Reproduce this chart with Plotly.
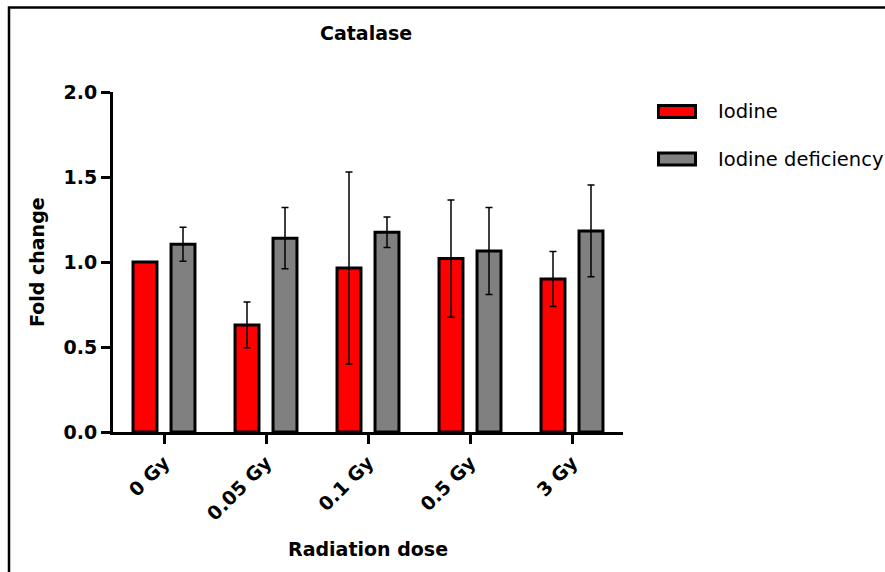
import plotly.graph_objects as go

# ---- data ----
categories = ["0 Gy", "0.05 Gy", "0.1 Gy", "0.5 Gy", "3 Gy"]
series_names = ["Iodine", "Iodine deficiency"]
iodine = [1.00, 0.63, 0.965, 1.02, 0.90]
iodine_err = [0.0, 0.135, 0.565, 0.345, 0.162]
deficiency = [1.105, 1.14, 1.175, 1.065, 1.183]
deficiency_err = [0.10, 0.18, 0.09, 0.256, 0.27]
y_ticks = [0.0, 0.5, 1.0, 1.5, 2.0]
y_tick_text = ["0.0", "0.5", "1.0", "1.5", "2.0"]
colors = ["#FF0000", "#808080"]

W, H = 885, 572
L, R, T, B = 113, 623, 92, 432  # plot area in pixels

def px(xpix):
    return (xpix - L) / (R - L)

def py(ypix):
    return (B - ypix) / (B - T)

BOLD = dict(family="DejaVu Sans", size=19, color="black", weight="bold")

fig = go.Figure()
for name, vals, errs, col in [
    (series_names[0], iodine, iodine_err, colors[0]),
    (series_names[1], deficiency, deficiency_err, colors[1]),
]:
    fig.add_trace(go.Bar(
        x=categories, y=vals, name=name,
        marker=dict(color=col, line=dict(color="black", width=3)),
        error_y=dict(type="data", array=errs, visible=True, color="black",
                     thickness=1.5, width=3.5),
        showlegend=False,
    ))

shapes = [
    # outer frame (clipped at right/bottom like the reference)
    dict(type="rect", xref="paper", yref="paper",
         x0=px(9), x1=px(900), y0=py(7.5), y1=py(600),
         line=dict(color="black", width=2.5), fillcolor="rgba(0,0,0,0)", layer="below"),
]
annotations = []
leg_y = [111.5, 159]
for i, (name, col) in enumerate(zip(series_names, colors)):
    shapes.append(dict(type="rect", xref="paper", yref="paper",
                       x0=px(658.5), x1=px(695.5), y0=py(leg_y[i] - 6), y1=py(leg_y[i] + 6),
                       line=dict(color="black", width=3), fillcolor=col))
    annotations.append(dict(text=name, xref="paper", yref="paper",
                            x=px(716), y=py(leg_y[i]), xanchor="left", yanchor="middle",
                            showarrow=False,
                            font=dict(family="DejaVu Sans", size=19.5, color="black")))

annotations.append(dict(text="Catalase", xref="paper", yref="paper",
                        x=px(366), y=py(33), xanchor="center", yanchor="middle",
                        showarrow=False, font=BOLD))
annotations.append(dict(text="Radiation dose", xref="paper", yref="paper",
                        x=px(368), y=py(549), xanchor="center", yanchor="middle",
                        showarrow=False, font=BOLD))
annotations.append(dict(text="Fold change", xref="paper", yref="paper",
                        x=px(37), y=py(262), xanchor="center", yanchor="middle",
                        textangle=-90, showarrow=False, font=BOLD))

fig.update_layout(
    width=W, height=H,
    margin=dict(l=L, r=W - R, t=T, b=H - B, autoexpand=False),
    paper_bgcolor="white", plot_bgcolor="white",
    barmode="group", bargap=0.255, bargroupgap=0.37,
    shapes=shapes, annotations=annotations,
    xaxis=dict(
        range=[-0.5, 4.5], showline=True, linecolor="black", linewidth=3,
        ticks="outside", ticklen=9, tickwidth=3, tickcolor="black",
        tickangle=-45, tickfont=BOLD, showgrid=False, zeroline=False,
    ),
    yaxis=dict(
        range=[0, 2], showline=True, linecolor="black", linewidth=3,
        ticks="outside", ticklen=9, tickwidth=3, tickcolor="black",
        tickvals=y_ticks, ticktext=y_tick_text, tickfont=BOLD,
        showgrid=False, zeroline=False,
    ),
)

fig.write_html("out.html")
